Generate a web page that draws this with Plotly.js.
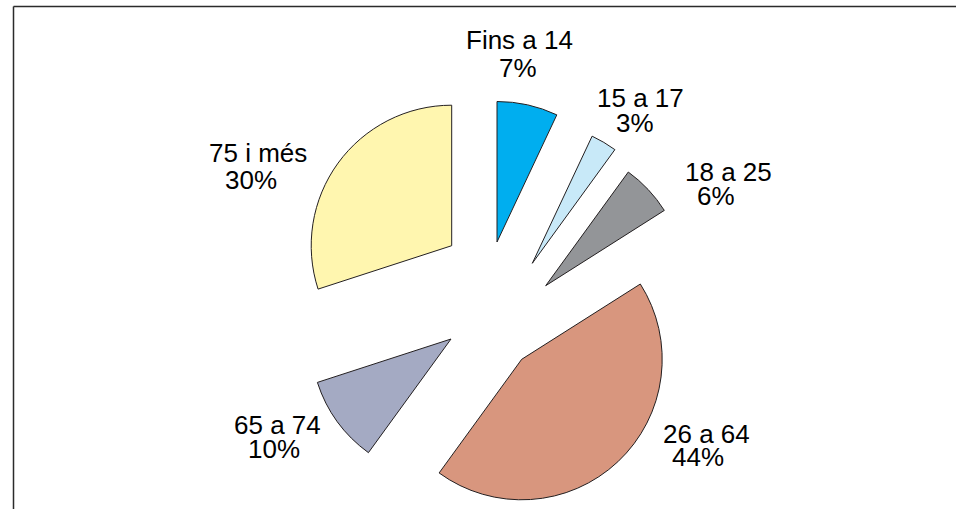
<!DOCTYPE html>
<html>
<head>
<meta charset="utf-8">
<script src="https://cdn.plot.ly/plotly-3.0.1.min.js"></script>
<style>
  html, body { margin: 0; padding: 0; background: #ffffff; }
  #chart { width: 956px; height: 509px; }
</style>
</head>
<body>
<div id="chart"></div>
<script>
// ---- data ----
const categories = ['Fins a 14', '15 a 17', '18 a 25', '26 a 64', '65 a 74', '75 i més'];
const shares = [7, 3, 6, 44, 10, 30];

// ---- styles ----
const sliceColors = ['#00AEEF', '#C8E9F8', '#939598', '#D8967E', '#A4AAC3', '#FFF6AF'];

// ---- layout (pixels in the 956x509 page) ----
const W = 956, H = 509;
const pieRadius = 140.5;
// where each exploded slice's tip sits: used as the centre of that slice's pie domain
const slicePivots = [[497, 242], [532.3, 263.3], [545.7, 285.7], [521.7, 359.3], [451, 339], [451.7, 245.7]];
// label line centres: [name line], [percent line]
const nameLabelPos = [[519, 39.5], [640, 98.5], [728, 172.5], [706, 434], [277, 425], [258, 153]];
const pctLabelPos = [[518, 67.5], [634.5, 122.5], [716, 196], [698, 456.5], [274, 449], [251, 180]];

function domainFor(p) {
  return {
    x: [(p[0] - pieRadius) / W, (p[0] + pieRadius) / W],
    y: [1 - (p[1] + pieRadius) / H, 1 - (p[1] - pieRadius) / H]
  };
}

const traces = categories.map((name, i) => ({
  type: 'pie',
  name: name,
  values: shares,
  labels: categories,
  sort: false,
  direction: 'clockwise',
  rotation: 0,
  textinfo: 'none',
  hoverinfo: 'label+percent',
  showlegend: false,
  domain: domainFor(slicePivots[i]),
  marker: {
    colors: sliceColors.map((c, j) => (j === i ? c : 'rgba(0,0,0,0)')),
    line: {
      color: shares.map((_, j) => (j === i ? '#231F20' : 'rgba(0,0,0,0)')),
      width: shares.map((_, j) => (j === i ? 1 : 0))
    }
  }
}));

const labelFont = { family: 'Liberation Sans, Arial, Helvetica, sans-serif', size: 26, color: '#000000' };
const annotations = [];
categories.forEach((name, i) => {
  annotations.push({
    xref: 'paper', yref: 'paper',
    x: nameLabelPos[i][0] / W, y: 1 - nameLabelPos[i][1] / H,
    xanchor: 'center', yanchor: 'middle', valign: 'middle',
    height: 22, borderpad: 0,
    text: name, showarrow: false, font: labelFont
  });
  annotations.push({
    xref: 'paper', yref: 'paper',
    x: pctLabelPos[i][0] / W, y: 1 - pctLabelPos[i][1] / H,
    xanchor: 'center', yanchor: 'middle', valign: 'middle',
    height: 22, borderpad: 0,
    text: shares[i] + '%', showarrow: false, font: labelFont
  });
});

const frameLine = { color: '#2B2B2B', width: 1.5 };
const layout = {
  width: W, height: H,
  margin: { l: 0, r: 0, t: 0, b: 0 },
  paper_bgcolor: '#ffffff',
  plot_bgcolor: '#ffffff',
  showlegend: false,
  annotations: annotations,
  shapes: [
    { type: 'line', xref: 'paper', yref: 'paper', x0: 13.5 / W, x1: 1.02, y0: 1 - 6.5 / H, y1: 1 - 6.5 / H, line: frameLine },
    { type: 'line', xref: 'paper', yref: 'paper', x0: 13.5 / W, x1: 13.5 / W, y0: 1 - 6.5 / H, y1: -0.02, line: frameLine }
  ]
};

Plotly.newPlot('chart', traces, layout, { displayModeBar: false, staticPlot: true });
</script>
</body>
</html>
